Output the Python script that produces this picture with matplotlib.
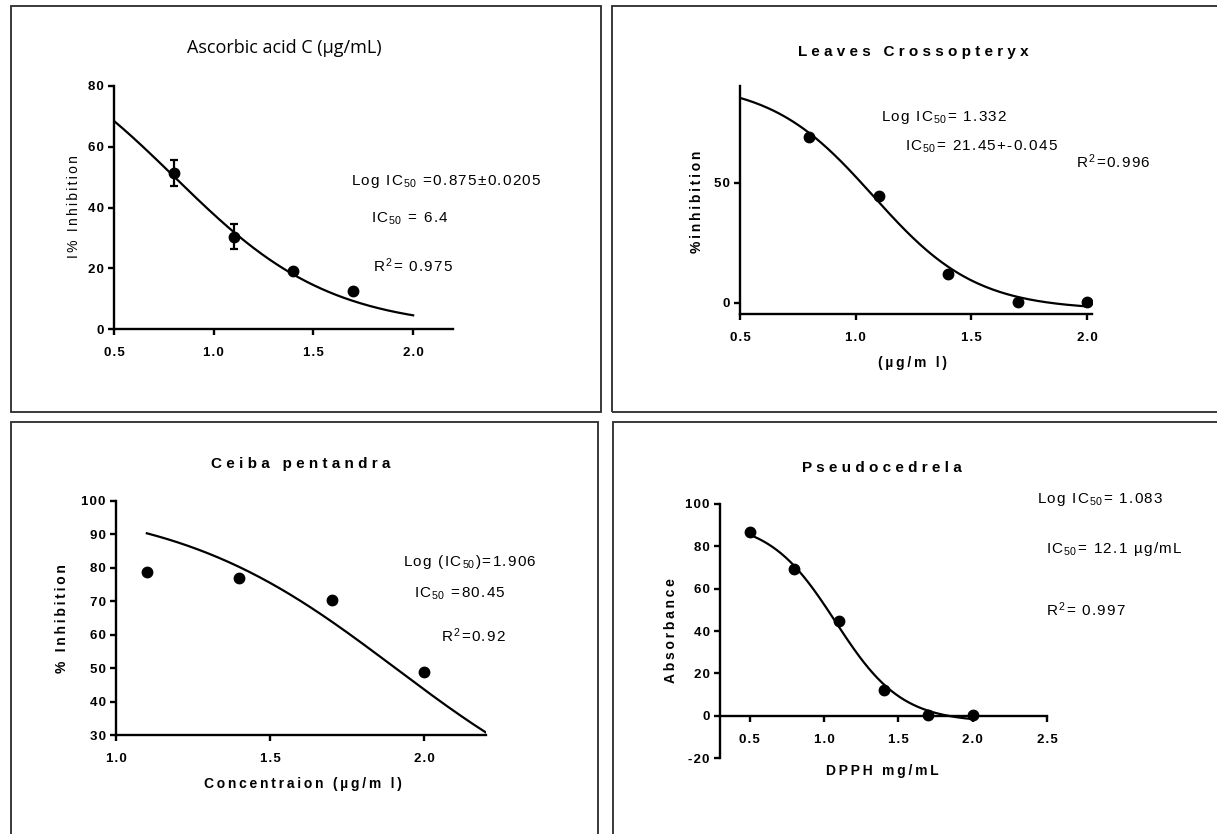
import numpy as np
import matplotlib
matplotlib.use("Agg")
import matplotlib.pyplot as plt
from matplotlib.patches import Rectangle

plt.rcParams['font.family'] = ['Liberation Sans', 'DejaVu Sans']
plt.rcParams['mathtext.fontset'] = 'custom'
plt.rcParams['mathtext.rm'] = 'Liberation Sans'
plt.rcParams['mathtext.it'] = 'Liberation Sans:italic'
plt.rcParams['mathtext.bf'] = 'Liberation Sans:bold'

# data
asc_x = [0.8, 1.1, 1.4, 1.7]
asc_y = [51.3, 30.4, 19.0, 12.6]
asc_err = [4.2, 4.1, 0.0, 0.0]
asc_fit = [100.0, 0.0, 0.804, 1.109]   # top, bottom, x50, hill

leaf_x = [0.8, 1.1, 1.4, 1.7, 2.0]
leaf_y = [69.0, 44.5, 12.0, 0.2, 0.2]
leaf_fit = [92.0, -3.0, 1.076, 1.95]

ceiba_x = [1.1, 1.4, 1.7, 2.0]
ceiba_y = [78.7, 76.9, 70.3, 48.8]
ceiba_fit = [100.0, 0.0, 1.906, 1.2]

pseudo_x = [0.5, 0.8, 1.1, 1.4, 1.7, 2.0]
pseudo_y = [86.5, 69.0, 44.5, 12.2, 0.4, 0.4]
pseudo_fit = [92.0, -3.0, 1.076, 1.95]

W, H = 1217, 834
fig = plt.figure(figsize=(W / 100, H / 100), dpi=100)

THIN = '\u2009'
HAIR = '\u200a'


def track(s, sep):
    # letter spacing outside of $...$ parts
    parts = s.split('$')
    out = []
    for i, p in enumerate(parts):
        out.append('$' + p + '$' if i % 2 else sep.join(p))
    return sep.join(x for x in out if x)


def logistic(x, p):
    top, bottom, x50, hill = p
    return bottom + (top - bottom) / (1 + 10 ** ((x - x50) * hill))


def ax_at(x0, x1, ytop, ybot):
    return fig.add_axes([x0 / W, 1 - ybot / H, (x1 - x0) / W, (ybot - ytop) / H])


def txt(x, y, s, **kw):
    kw.setdefault('va', 'center')
    fig.text(x / W, 1 - y / H, s, **kw)


def style(ax, xticks, yticks, xlim, ylim, xzero=False):
    ax.set_xlim(*xlim)
    ax.set_ylim(*ylim)
    ax.patch.set_visible(False)
    for s in ['top', 'right']:
        ax.spines[s].set_visible(False)
    for s in ['left', 'bottom']:
        ax.spines[s].set_linewidth(1.7)
    if xzero:
        ax.spines['bottom'].set_position(('data', 0))
    ax.set_xticks(xticks)
    ax.set_yticks(yticks)
    ax.set_xticklabels([track(f'{v:.1f}', HAIR) for v in xticks],
                       fontsize=9.5, fontweight='bold')
    ax.set_yticklabels([track(f'{v:g}', HAIR) for v in yticks],
                       fontsize=9.5, fontweight='bold')
    ax.tick_params(axis='both', direction='out', length=4.5, width=1.7)
    ax.tick_params(axis='x', pad=8.5)
    ax.tick_params(axis='y', pad=3)


# panel frames
for (x0, y0, x1, y1) in [(11, 6, 601, 412), (612, 6, 1230, 412),
                         (11, 422, 598, 850), (613, 422, 1230, 850)]:
    fig.patches.append(Rectangle((x0 / W, 1 - y1 / H), (x1 - x0) / W, (y1 - y0) / H,
                                 transform=fig.transFigure, fill=False,
                                 edgecolor='#2a2a2a', linewidth=1.3))

# Ascorbic acid
ax1 = ax_at(114, 453, 86, 329)
xs = np.linspace(0.5, 2.0, 200)
ax1.plot(xs, logistic(xs, asc_fit), color='black', lw=1.6)
ax1.errorbar(asc_x, asc_y, yerr=asc_err, fmt='o', color='black', ms=7.5,
             capsize=3, elinewidth=1.6, capthick=1.6)
style(ax1, [0.5, 1.0, 1.5, 2.0], [0, 20, 40, 60, 80], (0.5, 2.2), (0, 80))
txt(284, 48, 'Ascorbic acid C (µg/mL)', ha='center', fontsize=13,
    family=['Open Sans', 'DejaVu Sans'])
txt(74, 207, track('I% Inhibition', HAIR + HAIR), ha='center', rotation=90, fontsize=10)
txt(351, 181, track('Log IC$_{50}$ =0.875±0.0205', HAIR), fontsize=11)
txt(371, 219, track('IC$_{50}$ = 6.4', HAIR), fontsize=11)
txt(373, 266, track('R$^{2}$= 0.975', HAIR), fontsize=11)

# Leaves Crossopteryx
ax2 = ax_at(740, 1092, 86, 314)
ax2.plot(xs, logistic(xs, leaf_fit), color='black', lw=1.6)
ax2.plot(leaf_x, leaf_y, 'o', color='black', ms=7.5)
style(ax2, [0.5, 1.0, 1.5, 2.0], [0, 50], (0.5, 2.022), (-4.7, 90.3))
txt(913, 52, track('Leaves Crossopteryx', ' '), ha='center', fontsize=11, fontweight='bold')
txt(697, 202, track('%inhibition', THIN), ha='center', rotation=90, fontsize=10,
    fontweight='bold')
txt(913, 363, track('(µg/m l)', THIN), ha='center', fontsize=10, fontweight='bold')
txt(881, 117, track('Log IC$_{50}$= 1.332', HAIR), fontsize=11)
txt(905, 147, track('IC$_{50}$= 21.45+-0.045', HAIR), fontsize=11)
txt(1076, 162, track('R$^{2}$=0.996', HAIR), fontsize=11)

# Ceiba pentandra
ax3 = ax_at(116, 486, 500.7, 735)
xs3 = np.linspace(1.1, 2.2, 200)
ax3.plot(xs3, logistic(xs3, ceiba_fit), color='black', lw=1.6)
ax3.plot(ceiba_x, ceiba_y, 'o', color='black', ms=7.5)
style(ax3, [1.0, 1.5, 2.0], [30, 40, 50, 60, 70, 80, 90, 100], (1.0, 2.2), (30, 100))
txt(301, 464, track('Ceiba pentandra', ' '), ha='center', fontsize=11, fontweight='bold')
txt(62, 619, track('% Inhibition', THIN), ha='center', rotation=90, fontsize=10,
    fontweight='bold')
txt(303, 784, track('Concentraion (µg/m l)', THIN), ha='center', fontsize=10,
    fontweight='bold')
txt(403, 562, track('Log (IC$_{50}$)=1.906', HAIR), fontsize=11)
txt(414, 594, track('IC$_{50}$ =80.45', HAIR), fontsize=11)
txt(441, 636, track('R$^{2}$=0.92', HAIR), fontsize=11)

# Pseudocedrela
ax4 = ax_at(720, 1047, 503.7, 758.3)
ax4.plot(xs, logistic(xs, pseudo_fit), color='black', lw=1.6)
ax4.plot(pseudo_x, pseudo_y, 'o', color='black', ms=7.5)
style(ax4, [0.5, 1.0, 1.5, 2.0, 2.5], [-20, 0, 20, 40, 60, 80, 100], (0.3, 2.5), (-20, 100),
      xzero=True)
txt(882, 468, track('Pseudocedrela', ' '), ha='center', fontsize=11, fontweight='bold')
txt(671, 631, track('Absorbance', THIN), ha='center', rotation=90, fontsize=10,
    fontweight='bold')
txt(882, 771, track('DPPH mg/mL', THIN), ha='center', fontsize=10, fontweight='bold')
txt(1037, 499, track('Log IC$_{50}$= 1.083', HAIR), fontsize=11)
txt(1046, 549, track('IC$_{50}$= 12.1 µg/mL', HAIR), fontsize=11)
txt(1046, 610, track('R$^{2}$= 0.997', HAIR), fontsize=11)

fig.savefig('out.png', dpi=100, facecolor='white')
